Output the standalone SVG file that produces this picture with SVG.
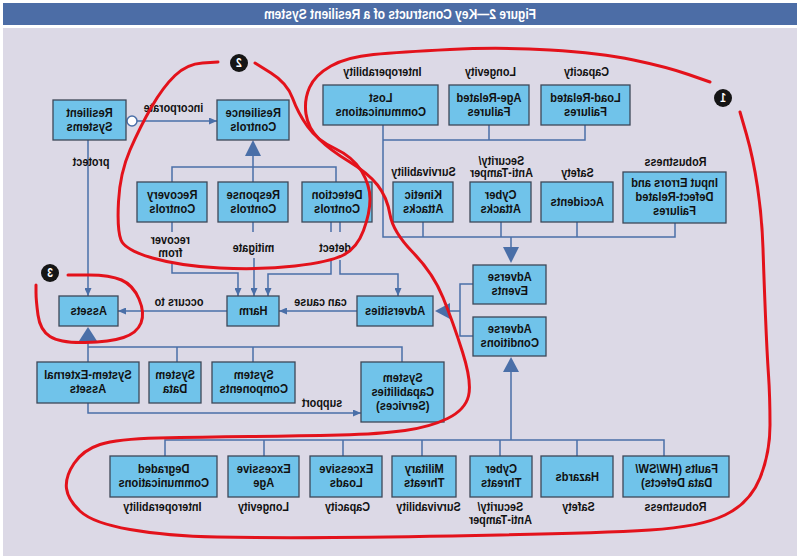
<svg xmlns="http://www.w3.org/2000/svg" width="800" height="559" viewBox="0 0 800 559">
<style>
.box{fill:#70c3ea;stroke:#3d4758;stroke-width:1.3}
.c{fill:none;stroke:#4a6fa8;stroke-width:1.5}
.tri{fill:#4a6fa8}
.t{font-family:"Liberation Sans",Arial,sans-serif;font-weight:bold;font-size:13px;text-anchor:middle;fill:#111;transform-box:fill-box;transform-origin:center;transform:scaleX(-0.86)}
.l{font-size:12.6px}
.red{fill:none;stroke:#e3121b;stroke-width:3;stroke-linecap:round;stroke-linejoin:round}
.badge{fill:#151515}
.bt{fill:#fff;font-size:12px}
.title{fill:#fff;font-size:14px}
</style>
<defs>
<marker id="ah" viewBox="0 0 8 7" refX="8" refY="3.5" markerWidth="8" markerHeight="7" markerUnits="userSpaceOnUse" orient="auto">
<path d="M0,0 L8,3.5 L0,7 z" fill="#4a6fa8"/>
</marker>
</defs>
<rect x="0" y="0" width="800" height="559" fill="#ffffff"/>
<rect x="3" y="3" width="794" height="22" fill="#4c6da6"/>
<text class="t title" x="400" y="19">Figure 2—Key Constructs of a Resilient System</text>
<rect x="3" y="28" width="794" height="528" fill="#dcd9e6"/>

<g id="connectors">
<circle cx="132" cy="121" r="5" fill="#fff" stroke="#4a6fa8" stroke-width="1.5"/>
<path class="c" d="M137,121 H217" marker-end="url(#ah)"/>
<path class="c" d="M88,140 V296" marker-end="url(#ah)"/>
<polygon class="tri" points="253,140 261,156 245,156"/>
<path class="c" d="M253,156 V182 M172,182 V167 H336 V182"/>
<path class="c" d="M172,222 V232 M172,262 V273 H238 V296" marker-end="url(#ah)"/>
<path class="c" d="M253,222 V232 M254,258 V296" marker-end="url(#ah)"/>
<path class="c" d="M331,222 V232 M340,222 V232"/>
<path class="c" d="M331,260 V274 H268 V296" marker-end="url(#ah)"/>
<path class="c" d="M340,260 V274 H398 V296" marker-end="url(#ah)"/>
<path class="c" d="M357,311 H279" marker-end="url(#ah)"/>
<path class="c" d="M227,311 H118" marker-end="url(#ah)"/>
<polygon class="tri" points="435,311 450,303 450,319"/>
<path class="c" d="M450,311 H460 M473,284 H460 V336 H473"/>
<path class="c" d="M383,125 V237 H675 V223 M383,140 H585 V125 M489,125 V140 M423,222 V237 M501,222 V237 M577,222 V237 M511,237 V248"/>
<polygon class="tri" points="503,247 519,247 511,263"/>
<polygon class="tri" points="511,357 519,372 503,372"/>
<path class="c" d="M511,372 V440 M165,456 V440 H664 V456 M264,440 V456 M343,440 V456 M422,440 V456 M500,440 V456 M577,440 V456"/>
<polygon class="tri" points="88,327 97,341 79,341"/>
<path class="c" d="M88,341 V362 M88,347 H402 V362 M177,347 V362 M253,347 V362"/>
<path class="c" d="M88,403 V413 H361" marker-end="url(#ah)"/>
</g>

<g id="resilient-systems"><rect class="box" x="53" y="100" width="73" height="40"/><text class="t" x="89.5" y="117"><tspan x="89.5">Resilient</tspan><tspan x="89.5" dy="14">Systems</tspan></text></g>
<g id="resilience-controls"><rect class="box" x="217" y="100" width="72" height="40"/><text class="t" x="253" y="117"><tspan x="253">Resilience</tspan><tspan x="253" dy="14">Controls</tspan></text></g>
<g id="recovery-controls"><rect class="box" x="137" y="182" width="70" height="40"/><text class="t" x="172" y="199"><tspan x="172">Recovery</tspan><tspan x="172" dy="14">Controls</tspan></text></g>
<g id="response-controls"><rect class="box" x="218" y="182" width="70" height="40"/><text class="t" x="253" y="199"><tspan x="253">Response</tspan><tspan x="253" dy="14">Controls</tspan></text></g>
<g id="detection-controls"><rect class="box" x="302" y="182" width="70" height="40"/><text class="t" x="337" y="199"><tspan x="337">Detection</tspan><tspan x="337" dy="14">Controls</tspan></text></g>
<g id="lost-communications"><rect class="box" x="323" y="85" width="115" height="40"/><text class="t" x="380.5" y="102"><tspan x="380.5">Lost</tspan><tspan x="380.5" dy="14">Communications</tspan></text></g>
<g id="age-related-failures"><rect class="box" x="449" y="85" width="80" height="40"/><text class="t" x="489" y="102"><tspan x="489">Age-Related</tspan><tspan x="489" dy="14">Failures</tspan></text></g>
<g id="load-related-failures"><rect class="box" x="541" y="85" width="89" height="40"/><text class="t" x="585.5" y="102"><tspan x="585.5">Load-Related</tspan><tspan x="585.5" dy="14">Failures</tspan></text></g>
<g id="kinetic-attacks"><rect class="box" x="393" y="182" width="60" height="40"/><text class="t" x="423" y="199"><tspan x="423">Kinetic</tspan><tspan x="423" dy="14">Attacks</tspan></text></g>
<g id="cyber-attacks"><rect class="box" x="470" y="182" width="61" height="40"/><text class="t" x="500.5" y="199"><tspan x="500.5">Cyber</tspan><tspan x="500.5" dy="14">Attacks</tspan></text></g>
<g id="accidents"><rect class="box" x="541" y="182" width="72" height="40"/><text class="t" x="577" y="206.5">Accidents</text></g>
<g id="input-errors"><rect class="box" x="623" y="172" width="103" height="51"/><text class="t" x="674.5" y="187"><tspan x="674.5">Input Errors and</tspan><tspan x="674.5" dy="14">Defect-Related</tspan><tspan x="674.5" dy="14">Failures</tspan></text></g>
<g id="adverse-events"><rect class="box" x="473" y="265" width="73" height="39"/><text class="t" x="509.5" y="281.5"><tspan x="509.5">Adverse</tspan><tspan x="509.5" dy="14">Events</tspan></text></g>
<g id="adverse-conditions"><rect class="box" x="473" y="317" width="73" height="39"/><text class="t" x="509.5" y="333.5"><tspan x="509.5">Adverse</tspan><tspan x="509.5" dy="14">Conditions</tspan></text></g>
<g id="adversities"><rect class="box" x="357" y="296" width="76" height="30"/><text class="t" x="395" y="315.5">Adversities</text></g>
<g id="harm"><rect class="box" x="227" y="296" width="52" height="30"/><text class="t" x="253" y="315.5">Harm</text></g>
<g id="assets"><rect class="box" x="59" y="296" width="59" height="30"/><text class="t" x="88.5" y="315.5">Assets</text></g>
<g id="system-external-assets"><rect class="box" x="37" y="362" width="102" height="41"/><text class="t" x="88" y="379"><tspan x="88">System-External</tspan><tspan x="88" dy="14">Assets</tspan></text></g>
<g id="system-data"><rect class="box" x="149" y="362" width="52" height="41"/><text class="t" x="175" y="379"><tspan x="175">System</tspan><tspan x="175" dy="14">Data</tspan></text></g>
<g id="system-components"><rect class="box" x="212" y="362" width="83" height="41"/><text class="t" x="253.5" y="379"><tspan x="253.5">System</tspan><tspan x="253.5" dy="14">Components</tspan></text></g>
<g id="system-capabilities"><rect class="box" x="361" y="362" width="83" height="60"/><text class="t" x="402.5" y="382"><tspan x="402.5">System</tspan><tspan x="402.5" dy="14">Capabilities</tspan><tspan x="402.5" dy="14">(Services)</tspan></text></g>
<g id="faults"><rect class="box" x="623" y="456" width="106" height="41"/><text class="t" x="676" y="473"><tspan x="676">Faults (HW/SW/</tspan><tspan x="676" dy="14">Data Defects)</tspan></text></g>
<g id="hazards"><rect class="box" x="541" y="456" width="72" height="41"/><text class="t" x="577" y="481">Hazards</text></g>
<g id="cyber-threats"><rect class="box" x="470" y="456" width="62" height="41"/><text class="t" x="501" y="473"><tspan x="501">Cyber</tspan><tspan x="501" dy="14">Threats</tspan></text></g>
<g id="military-threats"><rect class="box" x="392" y="456" width="64" height="41"/><text class="t" x="424" y="473"><tspan x="424">Military</tspan><tspan x="424" dy="14">Threats</tspan></text></g>
<g id="excessive-loads"><rect class="box" x="310" y="456" width="72" height="41"/><text class="t" x="346" y="473"><tspan x="346">Excessive</tspan><tspan x="346" dy="14">Loads</tspan></text></g>
<g id="excessive-age"><rect class="box" x="228" y="456" width="71" height="41"/><text class="t" x="263.5" y="473"><tspan x="263.5">Excessive</tspan><tspan x="263.5" dy="14">Age</tspan></text></g>
<g id="degraded-communications"><rect class="box" x="110" y="456" width="107" height="41"/><text class="t" x="163.5" y="473"><tspan x="163.5">Degraded</tspan><tspan x="163.5" dy="14">Communications</tspan></text></g>

<g id="labels">
<text class="t l" x="382" y="76.5">Interoperability</text>
<text class="t l" x="490" y="76.5">Longevity</text>
<text class="t l" x="586" y="76.5">Capacity</text>
<text class="t l" x="423" y="176.5">Survivability</text>
<text class="t l" x="501" y="165"><tspan x="501">Security/</tspan><tspan x="501" dy="12.5">Anti-Tamper</tspan></text>
<text class="t l" x="577" y="177.5">Safety</text>
<text class="t l" x="675" y="166.5">Robustness</text>
<text class="t l" x="675" y="511.5">Robustness</text>
<text class="t l" x="578" y="511.5">Safety</text>
<text class="t l" x="500" y="511.5"><tspan x="500">Security/</tspan><tspan x="500" dy="13">Anti-Tamper</tspan></text>
<text class="t l" x="428" y="511.5">Survivability</text>
<text class="t l" x="347" y="511.5">Capacity</text>
<text class="t l" x="263" y="511.5">Longevity</text>
<text class="t l" x="162" y="511.5">Interoperability</text>
<text class="t l" x="173" y="112">incorporate</text>
<text class="t l" x="91" y="166">protect</text>
<text class="t l" x="170" y="244"><tspan x="170">recover</tspan><tspan x="170" dy="13">from</tspan></text>
<text class="t l" x="253" y="252.5">mitigate</text>
<text class="t l" x="335" y="252.5">detect</text>
<text class="t l" x="320" y="306">can cause</text>
<text class="t l" x="179" y="306">occurs to</text>
<text class="t l" x="322" y="407">support</text>
</g>

<g id="highlights">
<path class="red" d="M255,63 L271,73 Q287,83 292.5,98 Q298,113 307.5,126.5 Q317,140 335,148.5 Q353,157 361.5,171 Q370,185 370,199 Q370,213 363.5,230.5 Q357,248 343.5,255 Q330,262 295,266 Q260,270 220,268 Q180,266 152.5,258 Q125,250 121,240 Q117,230 118.5,201.5 Q120,173 130,150 Q140,127 151.5,107 Q163,87 175,75.5 Q187,64 202.5,63 L218,62"/>
<path class="red" d="M710,82 L688.5,74.5 Q667,67 633.5,60 Q600,53 550,50 Q500,47 450,49.5 Q400,52 373.5,54.5 Q347,57 331,66 Q315,75 309.5,87.5 Q304,100 306,114 Q308,128 319,139 Q330,150 349,161.5 Q368,173 377.5,185 Q387,197 390,214.5 Q393,232 413,252.5 Q433,273 443,297.5 Q453,322 462.5,352 Q472,382 468.5,396 Q465,410 447.5,418.5 Q430,427 405,430.5 Q380,434 340,435 Q300,436 250,436.5 Q200,437 158.5,438 Q117,439 100,444.5 Q83,450 74,463.5 Q65,477 66.5,488.5 Q68,500 80.5,511.5 Q93,523 130,529.5 Q167,536 217,537 Q267,538 333.5,537.5 Q400,537 500,535 Q600,533 650,530 Q700,527 725,515 Q750,503 760,478 Q770,453 770,425 Q770,397 768.5,375 Q767,353 765.5,316.5 Q764,280 763,248.5 Q762,217 757.5,187 Q753,157 746.5,134.5 L740,112"/>
<path class="red" d="M68,275 L89,275 Q110,275 121.5,280 Q133,285 139,299 Q145,313 141,323 Q137,333 123.5,337.5 Q110,342 85,342.5 Q60,343 50,336.5 Q40,330 38,315 Q36,300 36,292.5 L36,285"/>
</g>

<g id="badges">
<g id="badge-1"><circle class="badge" cx="723" cy="98" r="9"/><text class="t bt" x="723" y="102.5">1</text></g>
<g id="badge-2"><circle class="badge" cx="239" cy="63" r="9"/><text class="t bt" x="239" y="67.5">2</text></g>
<g id="badge-3"><circle class="badge" cx="50" cy="273" r="9"/><text class="t bt" x="50" y="277.5">3</text></g>
</g>
</svg>
